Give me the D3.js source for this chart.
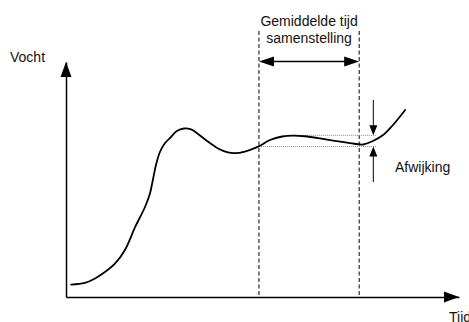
<!DOCTYPE html>
<html>
<head>
<meta charset="utf-8">
<script src="https://cdn.jsdelivr.net/npm/d3@7"></script>
<style>
  html, body { margin: 0; padding: 0; background: #fff; }
  svg { display: block; font-family: "Liberation Sans", Arial, sans-serif; }
</style>
</head>
<body>
<svg id="chart" width="469" height="322"></svg>
<script>
// Moisture over time (arbitrary units, 0-100 on both axes)
const timeValues = [1.3, 4.8, 7.4, 9.9, 12.5, 15.0, 17.6, 20.1, 21.4, 22.1, 22.9, 23.9, 25.2, 26.5,
  28.2, 30.0, 31.8, 33.6, 35.9, 38.7, 41.2, 43.0, 45.5, 48.9, 51.9, 55.0, 57.8, 60.8,
  64.6, 68.4, 72.3, 75.6, 78.1, 80.7, 83.2, 86.3];
const moistureValues = [5.3, 6.0, 7.9, 10.6, 14.3, 20.0, 29.8, 38.3, 44.3, 49.8, 56.2, 61.7, 65.5, 67.7,
  70.6, 71.7, 71.3, 69.4, 66.4, 63.2, 61.5, 61.2, 61.9, 64.0, 66.8, 68.3, 68.7, 68.4,
  67.5, 66.4, 65.5, 64.9, 66.4, 68.9, 73.2, 79.6];

// Averaging window and deviation band
const windowTimes = [49.1, 74.6];
const deviationLevels = [68.8, 64.0];   // upper, lower
const deviationStart = [57.8, 49.1];    // where each reference line begins
const deviationEnd = 79.1;
const deviationArrowTime = 78.2;

const labels = {
  yAxis: "Vocht",
  xAxis: "Tijd",
  windowLine1: "Gemiddelde tijd",
  windowLine2: "samenstelling",
  deviation: "Afwijking"
};

const svg = d3.select("#chart");
const x = d3.scaleLinear().domain([0, 100]).range([66, 459]);
const y = d3.scaleLinear().domain([0, 100]).range([297, 62]);

const x0 = x(0), y0 = y(0);

// Axes (no ticks), each ending in a filled arrowhead
svg.append("g")
  .attr("transform", `translate(0,${y0})`)
  .call(d3.axisBottom(x).tickValues([]).tickSizeOuter(0))
  .select(".domain").attr("stroke", "#000").attr("stroke-width", 1.5);
svg.append("g")
  .attr("transform", `translate(${x0},0)`)
  .call(d3.axisLeft(y).tickValues([]).tickSizeOuter(0))
  .select(".domain").attr("stroke", "#000").attr("stroke-width", 1.5);

function head(tipX, tipY, dx, dy, len, half) {
  // dx,dy: unit direction the arrow points to
  const bx = tipX - dx * len, by = tipY - dy * len;
  const px = -dy * half, py = dx * half;
  return `M${tipX},${tipY}L${bx + px},${by + py}L${bx - px},${by - py}Z`;
}

svg.append("path").attr("d", head(x(100), y0, 1, 0, 15, 5.5)).attr("fill", "#000");
svg.append("path").attr("d", head(x0, y(100), 0, -1, 15, 5.5)).attr("fill", "#000");

svg.append("text").attr("x", 10).attr("y", 62).attr("font-size", 14).attr("fill", "#111").text(labels.yAxis);
svg.append("text").attr("x", 449).attr("y", 322).attr("font-size", 14).attr("fill", "#111").text(labels.xAxis);

// Averaging window: dashed boundaries, caption and double arrow
const windowTop = 31;
windowTimes.forEach(t => {
  svg.append("line")
    .attr("x1", x(t)).attr("x2", x(t))
    .attr("y1", windowTop).attr("y2", y0)
    .attr("stroke", "#000").attr("stroke-width", 1)
    .attr("stroke-dasharray", "4,2.5");
});
const wMid = (x(windowTimes[0]) + x(windowTimes[1])) / 2;
svg.append("text").attr("x", wMid).attr("y", 26).attr("text-anchor", "middle")
  .attr("font-size", 14).attr("fill", "#111").text(labels.windowLine1);
svg.append("text").attr("x", wMid).attr("y", 43).attr("text-anchor", "middle")
  .attr("font-size", 14).attr("fill", "#111").text(labels.windowLine2);

const arrowY = 61.5;
svg.append("line")
  .attr("x1", x(windowTimes[0]) + 10).attr("x2", x(windowTimes[1]) - 10)
  .attr("y1", arrowY).attr("y2", arrowY)
  .attr("stroke", "#000").attr("stroke-width", 1.5);
svg.append("path").attr("d", head(x(windowTimes[0]), arrowY, -1, 0, 15, 5)).attr("fill", "#000");
svg.append("path").attr("d", head(x(windowTimes[1]), arrowY, 1, 0, 15, 5)).attr("fill", "#000");

// Deviation reference lines
deviationLevels.forEach((v, i) => {
  svg.append("line")
    .attr("x1", x(deviationStart[i])).attr("x2", x(deviationEnd))
    .attr("y1", y(v)).attr("y2", y(v))
    .attr("stroke", "#8a8a8a").attr("stroke-width", 1)
    .attr("stroke-dasharray", "1,1");
});

// Moisture curve
const pts = timeValues.map((t, i) => [t, moistureValues[i]]);
const line = d3.line().x(d => x(d[0])).y(d => y(d[1])).curve(d3.curveCatmullRom.alpha(0.5));
svg.append("path")
  .attr("d", line(pts))
  .attr("fill", "none")
  .attr("stroke", "#000")
  .attr("stroke-width", 1.8)
  .attr("stroke-linejoin", "round")
  .attr("stroke-linecap", "round");

// Deviation arrows pointing at the two levels
const ax = x(deviationArrowTime);
const upTip = y(deviationLevels[0]), lowTip = y(deviationLevels[1]);
svg.append("line").attr("x1", ax).attr("x2", ax).attr("y1", 100).attr("y2", upTip - 8)
  .attr("stroke", "#000").attr("stroke-width", 1);
svg.append("path").attr("d", head(ax, upTip, 0, 1, 10, 4)).attr("fill", "#000");
svg.append("line").attr("x1", ax).attr("x2", ax).attr("y1", 182).attr("y2", lowTip + 8)
  .attr("stroke", "#000").attr("stroke-width", 1);
svg.append("path").attr("d", head(ax, lowTip, 0, -1, 10, 4)).attr("fill", "#000");

svg.append("text").attr("x", 395).attr("y", 172).attr("font-size", 14).attr("fill", "#111").text(labels.deviation);
</script>
</body>
</html>
